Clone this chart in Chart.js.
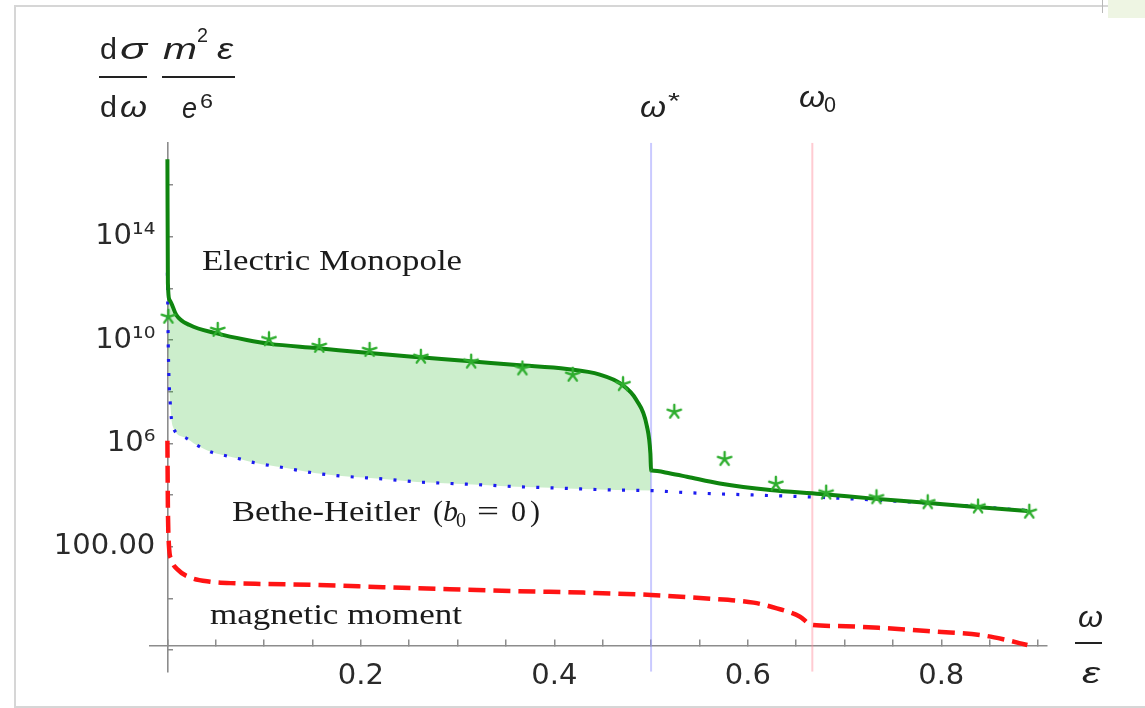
<!DOCTYPE html>
<html>
<head>
<meta charset="utf-8">
<script src="https://cdn.jsdelivr.net/npm/chart.js@4.4.1/dist/chart.umd.min.js"></script>
<style>
  html, body { margin: 0; padding: 0; background: #fff; overflow: hidden; }
  #wrap { position: relative; width: 1145px; height: 708px; overflow: hidden; }
  #frame { position: absolute; left: 14px; top: 5px; width: 1200px; height: 699px; border: 2px solid #d6d6d6; }
  #corner { position: absolute; left: 1108px; top: 0; width: 40px; height: 18px; background: #eef5e3; }
  #edge { position: absolute; left: 1102px; top: 0; width: 1px; height: 13px; background: #b8b8b8; }
  canvas { position: absolute; left: 0; top: 0; }
</style>
</head>
<body>
<div id="wrap">
  <div id="frame"></div>
  <div id="corner"></div>
  <div id="edge"></div>
  <canvas id="chart" width="1145" height="708"></canvas>
</div>
<script>
// DATOS (omega/epsilon en x, dsigma/domega * m^2 eps / e^6 en y)

// monopolo electrico (linea verde)
const monoX = [0, 0.0005, 0.0024, 0.0093, 0.023, 0.051, 0.082, 0.106, 0.154, 0.206, 0.258, 0.310, 0.361, 0.413, 0.447, 0.469, 0.485, 0.4955, 0.4993, 0.5, 0.5005, 0.52, 0.537, 0.571, 0.623, 0.675, 0.727, 0.778, 0.830, 0.889];
const monoY = [1e17, 1.6e12, 3.5e11, 9.3e10, 3.8e10, 1.8e10, 1.0e10, 7.1e9, 4.9e9, 3.2e9, 2.2e9, 1.55e9, 1.07e9, 7.6e8, 4.6e8, 2.0e8, 4.7e7, 5.0e6, 4.0e5, 8.9e4, 8.8e4, 6.8e4, 5.1e4, 2.8e4, 1.55e4, 1.1e4, 7.4e3, 5.2e3, 3.55e3, 2.4e3];

// Bethe-Heitler (puntos azules)
const bhX = [0, 0.001, 0.003, 0.0057, 0.018, 0.030, 0.046, 0.057, 0.073, 0.090, 0.120, 0.154, 0.189, 0.223, 0.258, 0.292, 0.327, 0.361, 0.396, 0.430, 0.464, 0.500, 0.537, 0.606, 0.675, 0.744, 0.813, 0.882, 0.892];
const bhY = [4.0e12, 3.2e9, 3.2e7, 4.4e6, 1.7e6, 8.7e5, 4.5e5, 3.55e5, 2.6e5, 1.78e5, 1.15e5, 6.9e4, 5.1e4, 4.2e4, 3.2e4, 2.8e4, 2.45e4, 2.1e4, 1.9e4, 1.7e4, 1.55e4, 1.48e4, 1.23e4, 1.0e4, 8.1e3, 6.0e3, 4.2e3, 2.6e3, 2.45e3];

// momento magnetico (rojo discontinuo)
const magX = [0, 0.0005, 0.0015, 0.004, 0.011, 0.023, 0.044, 0.071, 0.099, 0.154, 0.223, 0.292, 0.36, 0.43, 0.50, 0.554, 0.606, 0.63, 0.654, 0.666, 0.692, 0.744, 0.795, 0.84, 0.864, 0.889];
const magY = [1.26e6, 3.2e3, 126, 32, 12.6, 6.5, 4.4, 3.8, 3.6, 3.3, 2.7, 2.24, 1.9, 1.66, 1.35, 1.0, 0.68, 0.41, 0.195, 0.093, 0.085, 0.069, 0.051, 0.038, 0.026, 0.0155];

// asteriscos verdes
const starX = [0.001, 0.052, 0.105, 0.157, 0.209, 0.262, 0.314, 0.367, 0.419, 0.471, 0.524, 0.576, 0.629, 0.681, 0.733, 0.786, 0.838, 0.891];
const starY = [7.9e10, 2.45e10, 1.07e10, 5.9e9, 4.1e9, 2.24e9, 1.45e9, 7.9e8, 4.5e8, 1.95e8, 1.66e7, 2.45e5, 2.7e4, 1.23e4, 8.1e3, 5.2e3, 3.55e3, 2.24e3];

// lineas verticales omega* y omega0
const omegaStar = 0.5;
const omegaZero = 0.6667;

// ejes
const xMin = -0.018, xMax = 0.909;
const yMin = 1.44e-3, yMax = 4.37e17;
const xAxisAt = 1.43e-2;
const yTicks = [1e-2, 1, 1e2, 1e4, 1e6, 1e8, 1e10, 1e12, 1e14, 1e16];
const yTickLabels = new Map([[1e14, '10¹⁴'], [1e10, '10¹⁰'], [1e6, '10⁶'], [1e2, '100.00']]);


function pts(xs, ys) {
    return xs.map((x, i) => ({ x: x, y: ys[i] }));
}

// marcador tipo asterisco de 5 brazos
function asterisco(color) {
    const c = document.createElement('canvas');
    c.width = 18; c.height = 18;
    const g = c.getContext('2d');
    g.strokeStyle = color;
    g.lineWidth = 2.4;
    g.lineCap = 'round';
    for (let k = 0; k < 5; k++) {
        const a = -Math.PI / 2 + k * 2 * Math.PI / 5;
        g.beginPath();
        g.moveTo(9, 9);
        g.lineTo(9 + 7 * Math.cos(a), 9 + 7 * Math.sin(a));
        g.stroke();
    }
    return c;
}

// texto estirado a un ancho dado
function texto(ctx, s, x, y, font, w) {
    ctx.font = font;
    const m = ctx.measureText(s).width;
    ctx.save();
    ctx.translate(x, y);
    if (w) ctx.scale(w / m, 1);
    ctx.fillText(s, 0, 0);
    ctx.restore();
}

function raya(ctx, x1, x2, y) {
    ctx.beginPath();
    ctx.moveTo(x1, y);
    ctx.lineTo(x2, y);
    ctx.stroke();
}

const rotulos = {
    id: 'rotulos',
    afterDraw(chart) {
        const ctx = chart.ctx;
        ctx.save();
        ctx.textAlign = 'left';
        ctx.textBaseline = 'alphabetic';

        // etiquetas de las curvas
        ctx.fillStyle = '#1b1b1b';
        const serif = '30px "Liberation Serif"';
        texto(ctx, 'Electric Monopole', 202, 270, serif, 260);
        texto(ctx, 'Bethe-Heitler', 232, 521, serif, 188);
        texto(ctx, '(', 433, 521, serif);
        texto(ctx, 'b', 443, 521, 'italic 30px "Liberation Serif"');
        texto(ctx, '0', 456, 527, '20px "Liberation Serif"');
        texto(ctx, '=', 477, 521, serif, 22);
        texto(ctx, '0', 511, 521, serif);
        texto(ctx, ')', 530, 521, serif);
        texto(ctx, 'magnetic moment', 210, 624, serif, 252);

        // titulo del eje y
        ctx.fillStyle = '#222';
        ctx.strokeStyle = '#222';
        ctx.lineWidth = 2;
        const sans = '30px "Liberation Sans"';
        const sansI = 'italic 30px "Liberation Sans"';
        texto(ctx, 'd', 100, 59, sans, 17);
        texto(ctx, 'σ', 120, 59, sansI, 27);
        raya(ctx, 99, 147, 77);
        texto(ctx, 'd', 100, 117, sans, 17);
        texto(ctx, 'ω', 120, 117, sansI, 27);
        texto(ctx, 'm', 163, 59, sansI, 34);
        texto(ctx, '2', 197, 42, '21px "Liberation Sans"', 11);
        texto(ctx, 'ε', 217, 59, sansI, 16);
        raya(ctx, 162, 235, 77);
        texto(ctx, 'e', 182, 118, sansI, 15);
        texto(ctx, '6', 200, 108, '21px "Liberation Sans"', 13);

        // omega* y omega0
        texto(ctx, 'ω', 640, 117, sansI, 26);
        texto(ctx, '*', 668, 108, '22px "Liberation Sans"', 12);
        texto(ctx, 'ω', 799, 107, sansI, 26);
        texto(ctx, '0', 824, 112, '22px "Liberation Sans"', 12);

        // titulo del eje x
        texto(ctx, 'ω', 1078, 627, sansI, 25);
        raya(ctx, 1075, 1102, 643);
        texto(ctx, 'ε', 1082, 683, sansI, 18);
        ctx.restore();
    }
};

const datasets = [
    {
        label: 'Electric Monopole',
        data: pts(monoX, monoY),
        borderColor: '#0f850f',
        borderWidth: 4,
        backgroundColor: 'rgba(0,170,0,0.2)',
        fill: '+1',
        segment: {
            backgroundColor: c => c.p0.parsed.x >= omegaStar ? 'rgba(0,0,0,0)' : undefined
        },
        pointRadius: 0,
        cubicInterpolationMode: 'monotone',
        order: 1
    },
    {
        label: 'Bethe-Heitler',
        data: pts(bhX, bhY),
        borderColor: '#1c1cf0',
        borderWidth: 3.2,
        borderDash: [3, 11.3],
        pointRadius: 0,
        fill: false,
        cubicInterpolationMode: 'monotone',
        order: 2
    },
    {
        label: 'magnetic moment',
        data: pts(magX, magY),
        borderColor: '#ff1414',
        borderWidth: 4.5,
        borderDash: [17, 8],
        pointRadius: 0,
        fill: false,
        cubicInterpolationMode: 'monotone',
        order: 3
    },
    {
        label: 'puntos',
        data: pts(starX, starY),
        showLine: false,
        pointStyle: asterisco('#2fae2f'),
        pointRadius: 7,
        order: 0
    },
    {
        label: 'omega*',
        data: [{ x: omegaStar, y: yMax }, { x: omegaStar, y: yMin }],
        borderColor: 'rgba(150,150,255,0.5)',
        borderWidth: 2,
        pointRadius: 0,
        fill: false,
        order: 10
    },
    {
        label: 'omega0',
        data: [{ x: omegaZero, y: yMax }, { x: omegaZero, y: yMin }],
        borderColor: 'rgba(255,140,155,0.45)',
        borderWidth: 2,
        pointRadius: 0,
        fill: false,
        order: 10
    }
];

const tickFont = { family: 'DejaVu Sans', size: 29 };

new Chart(document.getElementById('chart'), {
    type: 'line',
    data: { datasets: datasets },
    options: {
        responsive: false,
        animation: false,
        layout: { padding: { left: 150, right: 98.3, top: 142.7, bottom: 36.3 } },
        plugins: {
            legend: { display: false },
            tooltip: { enabled: false },
            filler: { drawTime: 'beforeDatasetsDraw' }
        },
        scales: {
            x: {
                type: 'linear',
                min: xMin,
                max: xMax,
                position: { y: xAxisAt },
                grid: { drawOnChartArea: false, drawTicks: true, tickLength: -7, color: '#8c8c8c', lineWidth: 1.5 },
                border: { display: true, color: '#8c8c8c', width: 1.6 },
                ticks: {
                    stepSize: 0.05,
                    includeBounds: false,
                    autoSkip: false,
                    maxRotation: 0,
                    padding: 20,
                    color: '#2a2a2a',
                    font: tickFont,
                    callback: v => (v > 0.01 && Math.abs(v * 5 - Math.round(v * 5)) < 1e-6) ? v.toFixed(1) : ''
                }
            },
            y: {
                type: 'logarithmic',
                min: yMin,
                max: yMax,
                position: { x: 0 },
                afterBuildTicks: s => { s.ticks = yTicks.map(v => ({ value: v })); },
                grid: { drawOnChartArea: false, drawTicks: true, tickLength: -6, color: '#8c8c8c', lineWidth: 1.5 },
                border: { display: true, color: '#8c8c8c', width: 1.6 },
                ticks: {
                    autoSkip: false,
                    color: '#2a2a2a',
                    font: tickFont,
                    callback: v => yTickLabels.has(v) ? yTickLabels.get(v) + ' \u200A' : ''
                }
            }
        }
    },
    plugins: [rotulos]
});
</script>
</body>
</html>
